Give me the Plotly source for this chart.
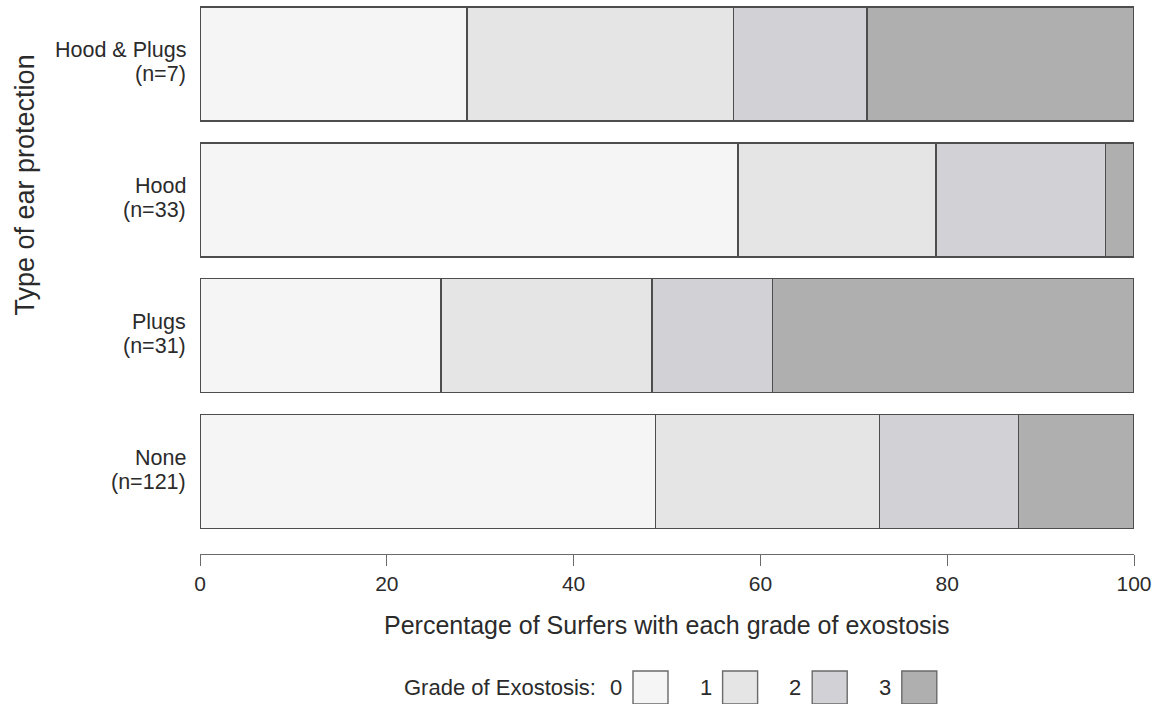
import plotly.graph_objects as go

# ---- data (bottom-to-top order as drawn) ----
groups = ["None", "Plugs", "Hood", "Hood & Plugs"]
group_n = [121, 31, 33, 7]
grades = ["0", "1", "2", "3"]
grade0 = [48.76, 25.81, 57.58, 28.57]
grade1 = [23.97, 22.58, 21.21, 28.57]
grade2 = [14.88, 12.90, 18.18, 14.29]
grade3 = [12.39, 38.71, 3.03, 28.57]
x_ticks = [0, 20, 40, 60, 80, 100]

# ---- style ----
colors = ["#f5f5f5", "#e5e5e5", "#d2d2d6", "#afafaf"]
edge = "#4d4d4d"
txt = "#2b2b2b"
FONT = "Liberation Sans, Arial, Helvetica, sans-serif"

W, H = 1162, 704
L, R, T, B = 200, 28, 0, 150
PW, PH = W - L - R, H - T - B


def px_x(px):
    return (px - L) / PW


def px_y(py):
    return (H - B - py) / PH


fig = go.Figure()
for g, vals, c in zip(grades, [grade0, grade1, grade2, grade3], colors):
    fig.add_trace(go.Bar(
        x=vals, y=groups, orientation="h", name=g,
        marker=dict(color=c, line=dict(color=edge, width=1.5)),
        width=0.84, showlegend=False, hoverinfo="x+y",
    ))

annotations = []
# group labels (two lines, right aligned)
for gname, n in zip(groups, group_n):
    annotations.append(dict(
        x=0, xref="paper", y=gname, yref="y", xanchor="right", yanchor="middle",
        xshift=-13, yshift=14, text=gname, showarrow=False, borderpad=0,
        font=dict(family=FONT, size=21.5, color=txt)))
    annotations.append(dict(
        x=0, xref="paper", y=gname, yref="y", xanchor="right", yanchor="middle",
        xshift=-13, yshift=-10, text=f"(n={n})", showarrow=False, borderpad=0,
        font=dict(family=FONT, size=21.5, color=txt)))

# axis titles
annotations.append(dict(
    x=0.5, xref="paper", y=px_y(625), yref="paper", xanchor="center", yanchor="middle",
    text="Percentage of Surfers with each grade of exostosis", showarrow=False,
    font=dict(family=FONT, size=25, color=txt)))
annotations.append(dict(
    x=px_x(24), xref="paper", y=px_y(185.5), yref="paper", xanchor="center", yanchor="middle",
    text="Type of ear protection", textangle=-90, showarrow=False,
    font=dict(family=FONT, size=27, color=txt)))

# custom legend: "Grade of Exostosis: 0 [] 1 [] 2 [] 3 []"
leg_y = 688
annotations.append(dict(
    x=px_x(598), xref="paper", y=px_y(leg_y), yref="paper", xanchor="right", yanchor="middle",
    text="Grade of Exostosis:", showarrow=False,
    font=dict(family=FONT, size=22, color=txt)))
shapes = []
box_left0, box_step, box_w = 633, 89.6, 35
for i, (g, c) in enumerate(zip(grades, colors)):
    bl = box_left0 + i * box_step
    annotations.append(dict(
        x=px_x(bl - 17), xref="paper", y=px_y(leg_y), yref="paper",
        xanchor="center", yanchor="middle", text=g, showarrow=False,
        font=dict(family=FONT, size=22, color=txt)))
    shapes.append(dict(
        type="rect", xref="paper", yref="paper",
        x0=px_x(bl), x1=px_x(bl + box_w), y0=px_y(704), y1=px_y(671),
        fillcolor=c, line=dict(color="#6a6a6a", width=1.4)))

fig.update_layout(
    width=W, height=H, barmode="stack",
    margin=dict(l=L, r=R, t=T, b=B, pad=0),
    plot_bgcolor="white", paper_bgcolor="white",
    font=dict(family=FONT, color=txt),
    annotations=annotations, shapes=shapes,
    xaxis=dict(
        range=[0, 100], tickvals=x_ticks, ticktext=[str(v) for v in x_ticks],
        showgrid=False, zeroline=False, showline=True, linecolor="#6a6a6a", linewidth=1.4,
        ticks="outside", ticklen=11, tickwidth=1.4, tickcolor="#6a6a6a",
        tickfont=dict(family=FONT, size=21, color=txt),
    ),
    yaxis=dict(
        type="category", categoryorder="array", categoryarray=groups,
        range=[-0.6074, 3.4712], showticklabels=False, showgrid=False,
        zeroline=False, showline=False, ticks="",
    ),
)

fig.write_html(
    "out.html",
    config={"displayModeBar": False},
    post_script="document.body.style.margin='0';document.body.style.overflow='hidden';",
)
